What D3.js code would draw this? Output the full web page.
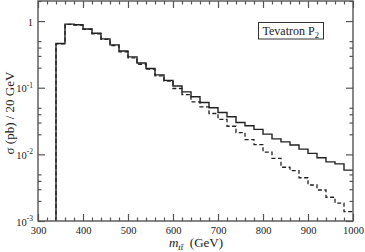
<!DOCTYPE html>
<html><head><meta charset="utf-8">
<script src="https://cdn.jsdelivr.net/npm/d3@7"></script>
<style>body{margin:0;background:#fff}svg{display:block}</style>
</head><body>
<script>
const binEdges = [340,360,380,400,420,440,460,480,500,520,540,560,580,600,620,640,660,680,700,720,740,760,780,800,820,840,860,880,900,920,940,960,980];
const binEnd = 1000;
const solidValues = [0.46,0.90,0.88,0.76,0.655,0.54,0.44,0.355,0.29,0.235,0.194,0.156,0.129,0.106,0.0865,0.073,0.060,0.050,0.0425,0.0366,0.0301,0.0268,0.0237,0.0201,0.0171,0.0154,0.0138,0.0120,0.01035,0.0089,0.0077,0.0072,0.0058];
const dashedValues = [0.455,0.89,0.87,0.75,0.645,0.53,0.43,0.345,0.28,0.225,0.19,0.150,0.126,0.0973,0.079,0.0613,0.0516,0.0410,0.0334,0.0264,0.0212,0.0166,0.0140,0.0108,0.0087,0.0064,0.0057,0.00446,0.00347,0.00292,0.00227,0.00185,0.00138];
const xTicks = [300,400,500,600,700,800,900,1000];
const xMinor = [320,340,360,380,420,440,460,480,520,540,560,580,620,640,660,680,720,740,760,780,820,840,860,880,920,940,960,980];
const yTicks = [1,0.1,0.01,0.001];
const yTickLabels = [["1",""],["10","-1"],["10","-2"],["10","-3"]];
const yMinor = [2,0.5,0.4,0.3,0.2,0.05,0.04,0.03,0.02,0.005,0.004,0.003,0.002];
const legendText = "Tevatron P";
const legendSub = "2";

const W=365,H=252;
const L=38,R=353,T=1,B=221;
const svg=d3.select("body").append("svg").attr("width",W).attr("height",H);
const x=d3.scaleLinear().domain([300,1000]).range([L,R]);
const y=d3.scaleLog().domain([0.001,2]).range([B,T]);
const font="'Liberation Serif','Times New Roman',serif";
const axisCol="#555";

function hist(vals){
  const pts=[[binEdges[0],0.001]];
  binEdges.forEach((e,i)=>pts.push([e,vals[i]]));
  pts.push([binEnd,vals[vals.length-1]]);
  return d3.line().x(d=>x(d[0])).y(d=>y(d[1])).curve(d3.curveStepAfter)(pts);
}
svg.append("path").attr("d",hist(dashedValues)).attr("fill","none").attr("stroke","#222").attr("stroke-width",1.3).attr("stroke-dasharray","4,2.5");
svg.append("path").attr("d",hist(solidValues)).attr("fill","none").attr("stroke","#222").attr("stroke-width",1.4);

function styleAxis(g){g.select(".domain").remove();g.selectAll("line").attr("stroke",axisCol).attr("stroke-width",1.2);}
// bottom
const gb=svg.append("g").attr("transform",`translate(0,${B})`).call(d3.axisBottom(x).tickValues(xTicks).tickSizeInner(-7).tickSizeOuter(0).tickPadding(4).tickFormat(d3.format("d")));
styleAxis(gb);
gb.selectAll("text").attr("font-family",font).attr("font-size",10.5).attr("fill","#222").attr("y",3).attr("dy","0.95em");
svg.append("g").attr("transform",`translate(0,${B})`).call(d3.axisBottom(x).tickValues(xMinor).tickSizeInner(-3.5).tickSizeOuter(0).tickFormat("")).call(styleAxis);
// top
svg.append("g").attr("transform",`translate(0,${T})`).call(d3.axisTop(x).tickValues(xTicks).tickSizeInner(-7).tickSizeOuter(0).tickFormat("")).call(styleAxis);
svg.append("g").attr("transform",`translate(0,${T})`).call(d3.axisTop(x).tickValues(xMinor).tickSizeInner(-3.5).tickSizeOuter(0).tickFormat("")).call(styleAxis);
// left
const gl=svg.append("g").attr("transform",`translate(${L},0)`).call(d3.axisLeft(y).tickValues(yTicks).tickSizeInner(-7).tickSizeOuter(0).tickPadding(6).tickFormat(""));
styleAxis(gl);
gl.selectAll(".tick").each(function(d,i){
  const t=d3.select(this).append("text").attr("x",-5).attr("y",4).attr("text-anchor","end").attr("font-family",font).attr("font-size",10.5).attr("fill","#222");
  const lab=yTickLabels[i];
  if(lab[1]){t.append("tspan").text(lab[0]);t.append("tspan").attr("dy",-4.5).attr("font-size",7.5).text(lab[1]);}
  else t.text(lab[0]);
});
svg.append("g").attr("transform",`translate(${L},0)`).call(d3.axisLeft(y).tickValues(yMinor).tickSizeInner(-3.5).tickSizeOuter(0).tickFormat("")).call(styleAxis);
// right
svg.append("g").attr("transform",`translate(${R},0)`).call(d3.axisRight(y).tickValues(yTicks).tickSizeInner(-7).tickSizeOuter(0).tickFormat("")).call(styleAxis);
svg.append("g").attr("transform",`translate(${R},0)`).call(d3.axisRight(y).tickValues(yMinor).tickSizeInner(-3.5).tickSizeOuter(0).tickFormat("")).call(styleAxis);
// frame
svg.append("rect").attr("x",L).attr("y",T).attr("width",R-L).attr("height",B-T).attr("fill","none").attr("stroke",axisCol).attr("stroke-width",1.4);

// legend
svg.append("rect").attr("x",258.5).attr("y",22.5).attr("width",65).attr("height",16.5).attr("fill","#fff").attr("stroke","#333").attr("stroke-width",1);
const lt=svg.append("text").attr("x",262.5).attr("y",35).attr("font-family",font).attr("font-size",12).attr("fill","#222");
lt.append("tspan").text(legendText);
lt.append("tspan").attr("dy",3).attr("font-size",8.5).text(legendSub);

// x label
const xl=svg.append("text").attr("x",196).attr("y",246.5).attr("text-anchor","middle").attr("font-family",font).attr("font-size",13).attr("fill","#222");
xl.append("tspan").attr("font-style","italic").text("m");
xl.append("tspan").attr("font-style","italic").attr("font-size",9).attr("dy",3).text("tt\u0304");
xl.append("tspan").attr("dy",-3).text("\u2002(GeV)");
// y label
svg.append("text").attr("transform","translate(14,113) rotate(-90)").attr("text-anchor","middle").attr("font-family",font).attr("font-size",13).attr("fill","#222").text("\u03c3 (pb) / 20 GeV");
</script>
</body></html>
